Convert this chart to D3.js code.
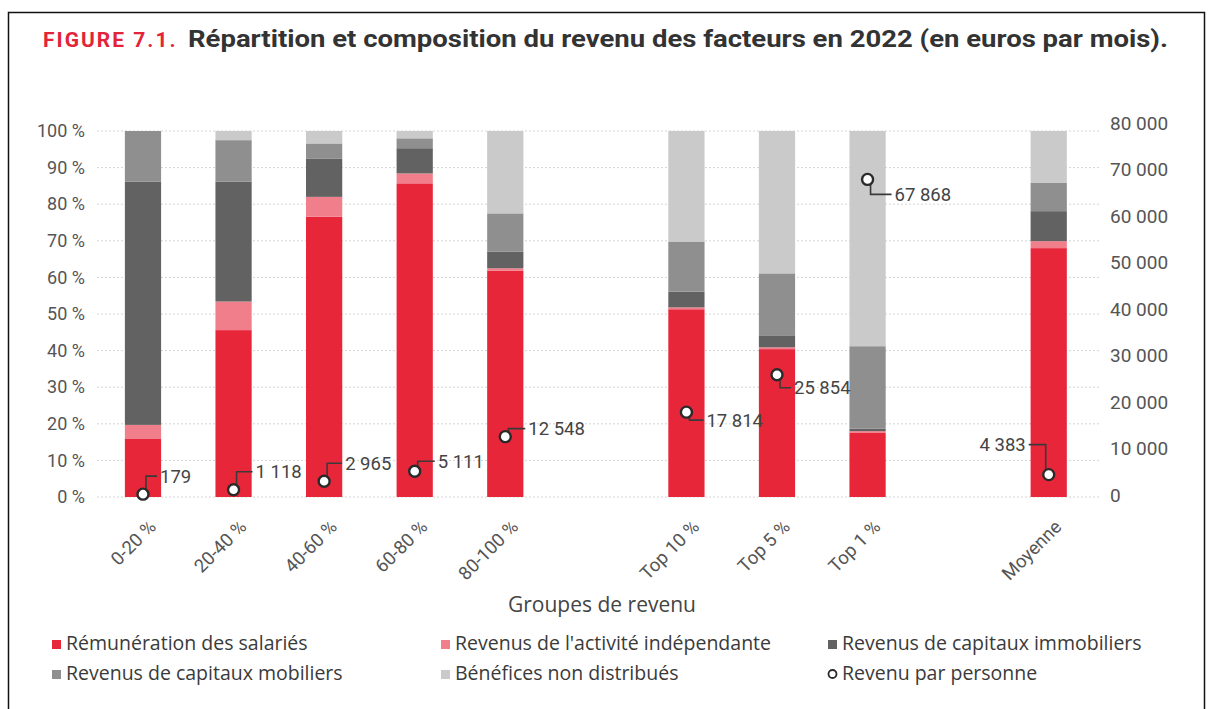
<!DOCTYPE html>
<html>
<head>
  <meta charset="utf-8">
  <title>Figure 7.1 – Répartition et composition du revenu des facteurs en 2022</title>
  <script src="https://d3js.org/d3.v7.min.js"></script>
  <style>
    body { margin: 0; background: #fff; font-family: Roboto, sans-serif; }
    .title-red { fill: #e3233a; font-weight: 700; font-size: 21px; letter-spacing: 2px; }
    .title { fill: #333; font-weight: 700; font-size: 24px; }
    .axis text { font-family: Roboto, sans-serif; font-size: 18px; fill: #555; }
    .axis path { display: none; }
    .grid line { stroke: #d4d4d4; stroke-dasharray: 2,2; }
    .xlabel { font-family: "Open Sans", sans-serif; font-size: 21px; fill: #444; text-anchor: middle; }
    .legend text { font-family: "Open Sans", sans-serif; font-size: 19.5px; fill: #3a3a3a; }
    .val-label { font-family: Roboto, sans-serif; font-size: 18.5px; fill: #444; }
  </style>
</head>
<body>
  <div id="chart"></div>
  <script>
    // ---- data ----
    const categories = ["0-20 %", "20-40 %", "40-60 %", "60-80 %", "80-100 %", "Top 10 %", "Top 5 %", "Top 1 %", "Moyenne"];
    // shares of income, in %
    const salaries    = [16.0, 45.6, 76.6, 85.7, 61.8, 51.3, 40.4, 17.5, 68.0];
    const independants = [3.7, 7.8, 5.4, 2.7, 0.7, 0.5, 0.5, 0.5, 1.9];
    const capImmo     = [66.5, 32.8, 10.5, 6.9, 4.5, 4.3, 3.1, 0.7, 8.2];
    const capMob      = [13.8, 11.3, 4.1, 2.7, 10.5, 13.7, 17.1, 22.5, 7.7];
    const benefices   = [0.0, 2.5, 3.4, 2.0, 22.5, 30.2, 38.9, 58.8, 14.2];
    // income per person, euros per month (right axis)
    const revenu = [179, 1118, 2965, 5111, 12548, 17814, 25854, 67868, 4383];

    const leftTicks = [0, 10, 20, 30, 40, 50, 60, 70, 80, 90, 100];
    const rightTicks = [0, 10000, 20000, 30000, 40000, 50000, 60000, 70000, 80000];

    const seriesNames = {
      salaries: "Rémunération des salariés",
      independants: "Revenus de l'activité indépendante",
      capImmo: "Revenus de capitaux immobiliers",
      capMob: "Revenus de capitaux mobiliers",
      benefices: "Bénéfices non distribués"
    };

    // ---- layout ----
    const W = 1208, H = 709;
    const colors = {
      salaries: "#e8263a",
      independants: "#f07f8b",
      capImmo: "#626262",
      capMob: "#8f8f8f",
      benefices: "#cacaca"
    };
    const keys = ["salaries", "independants", "capImmo", "capMob", "benefices"];
    const fr = d3.formatLocale({ decimal: ",", thousands: " ", grouping: [3], currency: ["", " €"] });
    const fmt = fr.format(",d");

    const svg = d3.select("#chart").append("svg")
      .attr("width", W).attr("height", H);

    // frame
    svg.append("rect")
      .attr("x", 8.5).attr("y", 12.5)
      .attr("width", 1196).attr("height", 720)
      .attr("fill", "#fff").attr("stroke", "#111").attr("stroke-width", 1.5);

    // title
    svg.append("text").attr("class", "title-red")
      .attr("x", 43).attr("y", 47).text("FIGURE 7.1.");
    svg.append("text").attr("class", "title")
      .attr("x", 188).attr("y", 47)
      .attr("textLength", 980).attr("lengthAdjust", "spacingAndGlyphs")
      .text("Répartition et composition du revenu des facteurs en 2022 (en euros par mois).");

    // scales (two empty slots separate the groups)
    const slots = [...categories.slice(0, 5), "gap1", ...categories.slice(5, 8), "gap2", categories[8]];
    const x = d3.scaleBand()
      .domain(slots)
      .range([97.7, 1094])
      .paddingInner(0.6)
      .paddingOuter(0.3);

    const y = d3.scaleLinear().domain([0, 100]).range([497, 131]);
    const yR = d3.scaleLinear().domain([0, 80000]).range([495, 123]);

    // gridlines
    svg.append("g").attr("class", "grid")
      .selectAll("line").data(leftTicks).join("line")
      .attr("x1", 97).attr("x2", 1100)
      .attr("y1", d => y(d)).attr("y2", d => y(d));

    // left axis
    const gl = svg.append("g").attr("class", "axis")
      .attr("transform", "translate(97,0)")
      .call(d3.axisLeft(y).tickValues(leftTicks).tickSize(0).tickPadding(12)
        .tickFormat(d => d + " %"));
    gl.attr("font-family", null).attr("font-size", null);

    // right axis
    const gr = svg.append("g").attr("class", "axis")
      .attr("transform", "translate(1100,0)")
      .call(d3.axisRight(yR).tickValues(rightTicks).tickSize(0).tickPadding(10)
        .tickFormat(fmt));
    gr.attr("font-family", null).attr("font-size", null);
    gr.selectAll("text").style("font-size", "19px");

    // x axis with rotated labels
    const gx = svg.append("g").attr("class", "axis")
      .attr("transform", "translate(0,497)")
      .call(d3.axisBottom(x).tickValues(categories).tickSize(0));
    gx.attr("font-family", null).attr("font-size", null);
    gx.selectAll("text")
      .style("font-size", "18.5px")
      .attr("x", 0).attr("y", 0).attr("dy", null)
      .attr("text-anchor", "end")
      .attr("transform", "translate(14,31) rotate(-45)");

    // stacked bars
    const rows = categories.map((c, i) => ({
      cat: c,
      salaries: salaries[i],
      independants: independants[i],
      capImmo: capImmo[i],
      capMob: capMob[i],
      benefices: benefices[i]
    }));
    const stacked = d3.stack().keys(keys)(rows);

    svg.append("g").selectAll("g").data(stacked).join("g")
      .attr("fill", s => colors[s.key])
      .selectAll("rect").data(s => s).join("rect")
      .attr("x", d => x(d.data.cat))
      .attr("width", x.bandwidth())
      .attr("y", d => y(d[1]))
      .attr("height", d => Math.max(0, y(d[0]) - y(d[1])));

    // income per person: markers, leader lines and labels
    const labelOffsets = [
      [17, -18], [22, -18], [21, -18], [23, -10], [23, -8],
      [20, 8], [17, 13], [27, 15], [-23, -30]
    ];
    const pts = categories.map((c, i) => {
      const cx = x(c) + x.bandwidth() / 2;
      const cy = yR(revenu[i]);
      const [dx, dy] = labelOffsets[i];
      return { cx, cy, lx: cx + dx, ly: cy + dy, v: revenu[i], right: dx > 0 };
    });

    const ann = svg.append("g");
    ann.selectAll("path").data(pts).join("path")
      .attr("fill", "none").attr("stroke", "#3a3a3a").attr("stroke-width", 1.6)
      .attr("d", p => {
        const vx = p.cx + (p.right ? 3 : -3);
        const ex = p.lx + (p.right ? -3 : 3);
        return `M${vx},${p.cy}L${vx},${p.ly}L${ex},${p.ly}`;
      });
    ann.selectAll("circle").data(pts).join("circle")
      .attr("cx", p => p.cx).attr("cy", p => p.cy).attr("r", 5.5)
      .attr("fill", "#fff").attr("stroke", "#2a2a2a").attr("stroke-width", 2.4);
    ann.selectAll("text").data(pts).join("text")
      .attr("class", "val-label")
      .attr("x", p => p.lx).attr("y", p => p.ly)
      .attr("dy", "0.35em")
      .attr("text-anchor", p => p.right ? "start" : "end")
      .text(p => fmt(p.v));

    // x axis title
    svg.append("text").attr("class", "xlabel")
      .attr("x", 602).attr("y", 612)
      .text("Groupes de revenu");

    // legend
    const legendItems = [
      { key: "salaries", col: 0, row: 0 },
      { key: "independants", col: 1, row: 0 },
      { key: "capImmo", col: 2, row: 0 },
      { key: "capMob", col: 0, row: 1 },
      { key: "benefices", col: 1, row: 1 },
      { key: "revenu", col: 2, row: 1 }
    ];
    const colX = [52, 441, 828];
    const rowY = [643, 673];
    const lg = svg.append("g").attr("class", "legend");
    const li = lg.selectAll("g").data(legendItems).join("g")
      .attr("transform", d => `translate(${colX[d.col]},${rowY[d.row]})`);
    li.filter(d => d.key !== "revenu").append("rect")
      .attr("x", 0).attr("y", -3).attr("width", 9).attr("height", 9)
      .attr("fill", d => colors[d.key]);
    li.filter(d => d.key === "revenu").append("circle")
      .attr("cx", 4.5).attr("cy", 1).attr("r", 4)
      .attr("fill", "#fff").attr("stroke", "#2a2a2a").attr("stroke-width", 1.8);
    li.append("text")
      .attr("x", 14).attr("y", 0).attr("dy", "0.35em")
      .text(d => d.key === "revenu" ? "Revenu par personne" : seriesNames[d.key]);
  </script>
</body>
</html>
